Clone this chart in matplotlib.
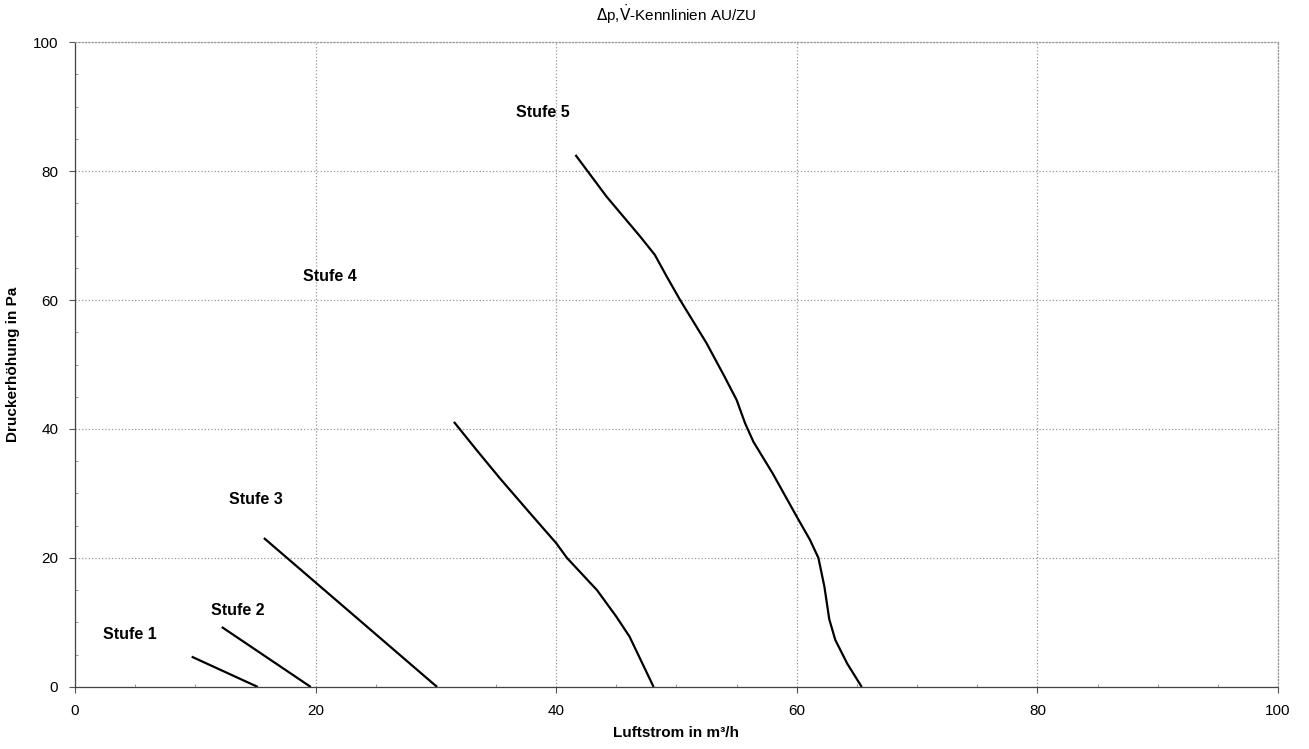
import numpy as np
import matplotlib.pyplot as plt
from matplotlib.ticker import MultipleLocator

plt.rcParams['font.family'] = ['Liberation Sans', 'DejaVu Sans']

# Kennlinien: Luftstrom (m3/h), Druckerhoehung (Pa)
stufe1_x = [9.7, 15.2]
stufe1_y = [4.7, 0.0]
stufe2_x = [12.2, 19.6]
stufe2_y = [9.3, 0.0]
stufe3_x = [15.7, 30.1]
stufe3_y = [23.1, 0.0]
stufe4_x = [31.5, 33.4, 35.3, 37.8, 40.0, 40.9, 43.4, 45.0, 46.1, 48.1]
stufe4_y = [41.1, 36.7, 32.4, 27.0, 22.3, 20.0, 15.0, 10.9, 7.8, 0.0]
stufe5_x = [41.6, 44.2, 47.0, 48.2, 49.2, 50.3, 52.5, 54.0, 55.0, 55.7,
            56.4, 58.0, 60.0, 61.1, 61.8, 62.3, 62.7, 63.2, 64.2, 65.4]
stufe5_y = [82.5, 76.0, 69.8, 67.0, 63.6, 60.0, 53.3, 48.1, 44.5, 40.9,
            38.0, 33.1, 26.4, 22.8, 20.0, 15.5, 10.5, 7.3, 3.6, 0.0]

labels = ['Stufe 1', 'Stufe 2', 'Stufe 3', 'Stufe 4', 'Stufe 5']
label_x = [4.6, 13.5, 15.0, 21.2, 38.9]
label_y = [8.2, 11.9, 29.0, 63.6, 89.0]

fig = plt.figure(figsize=(13.09, 7.49), dpi=100)
ax = fig.add_axes([0.0573, 0.0828, 0.919, 0.8611])

for xs, ys in [(stufe1_x, stufe1_y), (stufe2_x, stufe2_y), (stufe3_x, stufe3_y),
               (stufe4_x, stufe4_y), (stufe5_x, stufe5_y)]:
    ax.plot(xs, ys, 'k-', lw=1.6, solid_capstyle='butt', solid_joinstyle='round')

for t, lx, ly in zip(labels, label_x, label_y):
    ax.text(lx, ly, t, ha='center', va='center', fontsize=11.5, fontweight='bold')

ax.set_xlim(0, 100)
ax.set_ylim(0, 100)
ax.xaxis.set_major_locator(MultipleLocator(20))
ax.yaxis.set_major_locator(MultipleLocator(20))
ax.xaxis.set_minor_locator(MultipleLocator(5))
ax.yaxis.set_minor_locator(MultipleLocator(5))
ax.tick_params(which='major', direction='out', length=4, width=0.8,
               color='#555555', labelsize=11, pad=8)
ax.tick_params(which='minor', direction='in', length=2, width=0.6, color='#888888')
ax.grid(True, which='major', ls=':', color='#999999', lw=0.9)

for s in ['top', 'right']:
    ax.spines[s].set_linestyle(':')
    ax.spines[s].set_color('#999999')
    ax.spines[s].set_linewidth(0.9)
for s in ['left', 'bottom']:
    ax.spines[s].set_linestyle((0, (2, 1)))
    ax.spines[s].set_color('#444444')
    ax.spines[s].set_linewidth(0.9)

ax.set_xlabel('Luftstrom in m³/h', fontsize=11, fontweight='bold', labelpad=6)
ax.set_ylabel('Druckerhöhung in Pa', fontsize=11, fontweight='bold', labelpad=9)
fig.text(0.5165, 0.981, r'$\Delta$p,$\dot{\mathrm{V}}$-Kennlinien AU/ZU',
         ha='center', va='center', fontsize=11)

plt.savefig('out.png', dpi=100)
